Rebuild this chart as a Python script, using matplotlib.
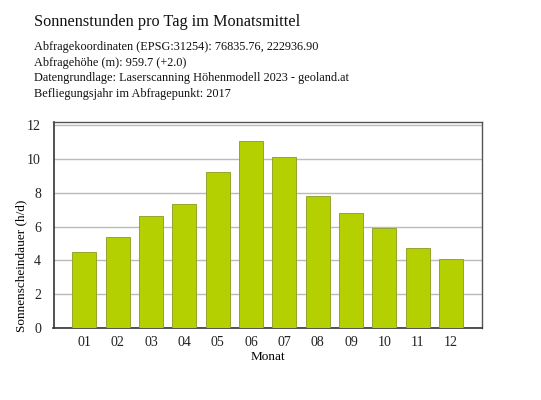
import matplotlib.pyplot as plt

# Data
months = ["01", "02", "03", "04", "05", "06", "07", "08", "09", "10", "11", "12"]
sun_hours = [4.51, 5.40, 6.62, 7.37, 9.24, 11.07, 10.12, 7.84, 6.80, 5.93, 4.75, 4.08]
y_ticks = [0, 2, 4, 6, 8, 10, 12]

title = "Sonnenstunden pro Tag im Monatsmittel"
info_lines = [
    "Abfragekoordinaten (EPSG:31254): 76835.76, 222936.90",
    "Abfragehöhe (m): 959.7 (+2.0)",
    "Datengrundlage: Laserscanning Höhenmodell 2023 - geoland.at",
    "Befliegungsjahr im Abfragepunkt: 2017",
]

plt.rcParams['font.family'] = ['Liberation Serif', 'DejaVu Serif']

fig = plt.figure(figsize=(5.41, 4.0), dpi=100)
ax = fig.add_axes([53.5 / 541, 1 - 328 / 400, (482 - 53.5) / 541, (328 - 122.3) / 400])

x = range(len(months))
ax.bar(x, sun_hours, width=0.72, color='#b5d000', edgecolor='#8a9a20', linewidth=0.6, zorder=3)

ax.set_xlim(-0.93, len(months) - 1 + 0.93)
ax.set_ylim(0, 12.18)
ax.set_xticks(list(x))
ax.set_xticklabels(months)
ax.set_yticks(y_ticks)
ax.tick_params(length=0, labelsize=10, colors='#222222')
ax.tick_params(axis='x', pad=6)
ax.tick_params(axis='y', pad=9)
ax.grid(axis='y', color='#bbbbbb', linewidth=1.0, zorder=0)

for side in ['top', 'right']:
    ax.spines[side].set_color('#555555')
    ax.spines[side].set_linewidth(1.0)
for side in ['left', 'bottom']:
    ax.spines[side].set_color('#333333')
    ax.spines[side].set_linewidth(1.2)

ax.set_xlabel("Monat", fontsize=9.5, labelpad=1)
ax.set_ylabel("Sonnenscheindauer (h/d)", fontsize=9.5)
ax.yaxis.set_label_coords(-0.062, 0.30)

# Title and info text
fig.text(34 / 541, 1 - 22 / 400, title, fontsize=11.7, va='center', ha='left', color='#111111')
for i, line in enumerate(info_lines):
    fig.text(34 / 541, 1 - (47 + i * 15.7) / 400, line, fontsize=8.8, va='center', ha='left', color='#111111')

fig.savefig("out.png", dpi=100)
